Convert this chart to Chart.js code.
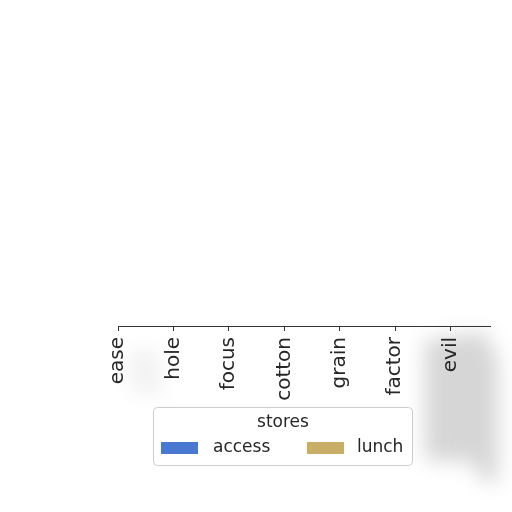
<!DOCTYPE html>
<html><head><meta charset="utf-8">
<script src="https://cdn.jsdelivr.net/npm/chart.js@4.4.1/dist/chart.umd.min.js"></script>
<style>html,body{margin:0;padding:0;background:#fff}#wrap{width:512px;height:512px}</style>
</head><body><div id="wrap"><canvas id="c" width="512" height="512"></canvas></div>
<script>
const categories = ["ease","hole","focus","cotton","grain","factor","evil"];
const accessValues = [0,0,0,0,0,0,0];
const lunchValues = [0,0,0,0,0,0,0];
const seriesNames = ["access","lunch"];
const seriesColors = ["#4878d0","#c8ae66"];
const legendTitle = "stores";

const shadowPlugin = {
  id:'shadow',
  beforeDraw(chart){
    const ctx = chart.ctx;
    ctx.save();
    ctx.filter = 'blur(10px)';
    ctx.fillStyle = 'rgba(200,200,200,0.75)';
    ctx.beginPath();
    ctx.moveTo(425,340);ctx.lineTo(485,332);ctx.lineTo(498,360);ctx.lineTo(498,480);
    ctx.lineTo(486,484);ctx.lineTo(472,462);ctx.lineTo(425,460);ctx.closePath();ctx.fill();
    ctx.fillStyle = 'rgba(215,215,215,0.35)';
    ctx.beginPath();
    ctx.moveTo(128,350);ctx.lineTo(158,350);ctx.lineTo(162,395);ctx.lineTo(132,392);ctx.closePath();ctx.fill();
    ctx.restore();
  }
};

const legendPlugin = {
  id:'customLegend',
  afterDraw(chart){
    const ctx = chart.ctx;
    ctx.save();
    const bx=153.5, by=407.5, bw=259, bh=58, r=4;
    ctx.fillStyle='rgba(255,255,255,0.85)';
    ctx.strokeStyle='#cccccc';
    ctx.lineWidth=1;
    ctx.beginPath();
    ctx.roundRect(bx,by,bw,bh,r);
    ctx.fill();ctx.stroke();
    ctx.fillStyle='#262626';
    ctx.font='17px "DejaVu Sans"';
    ctx.textBaseline='middle';
    ctx.textAlign='center';
    ctx.fillText(legendTitle, bx+bw/2, 423);
    ctx.textAlign='left';
    const xs=[[161,213],[307,357]];
    chart.data.datasets.forEach((ds,i)=>{
      ctx.fillStyle=ds.backgroundColor;
      ctx.fillRect(xs[i][0],442,37,12);
      ctx.fillStyle='#262626';
      ctx.fillText(ds.label, xs[i][1], 448);
    });
    ctx.restore();
  }
};

new Chart(document.getElementById('c'),{
  type:'bar',
  data:{
    labels:categories,
    datasets:[
      {label:seriesNames[0],data:accessValues.map((v,i)=>({x:i,y:v})),backgroundColor:seriesColors[0]},
      {label:seriesNames[1],data:lunchValues.map((v,i)=>({x:i,y:v})),backgroundColor:seriesColors[1]}
    ]
  },
  options:{
    responsive:false,animation:false,
    layout:{padding:{left:118,right:22,top:10,bottom:0}},
    plugins:{legend:{display:false},tooltip:{enabled:false}},
    scales:{
      x:{
        type:'linear',min:0,max:6.71,offset:false,
        afterBuildTicks(scale){scale.ticks=categories.map((c,i)=>({value:i}));},
        afterFit(scale){scale.height=186;},
        grid:{offset:false,drawOnChartArea:false,drawTicks:true,tickLength:5,color:'#333'},
        border:{display:true,color:'#333',width:1},
        ticks:{autoSkip:false,minRotation:90,maxRotation:90,padding:6,color:'#262626',
          font:{family:'DejaVu Sans',size:20},
          callback:(v)=>categories[v]}
      },
      y:{display:false,min:0,max:1}
    }
  },
  plugins:[shadowPlugin,legendPlugin]
});
</script></body></html>
